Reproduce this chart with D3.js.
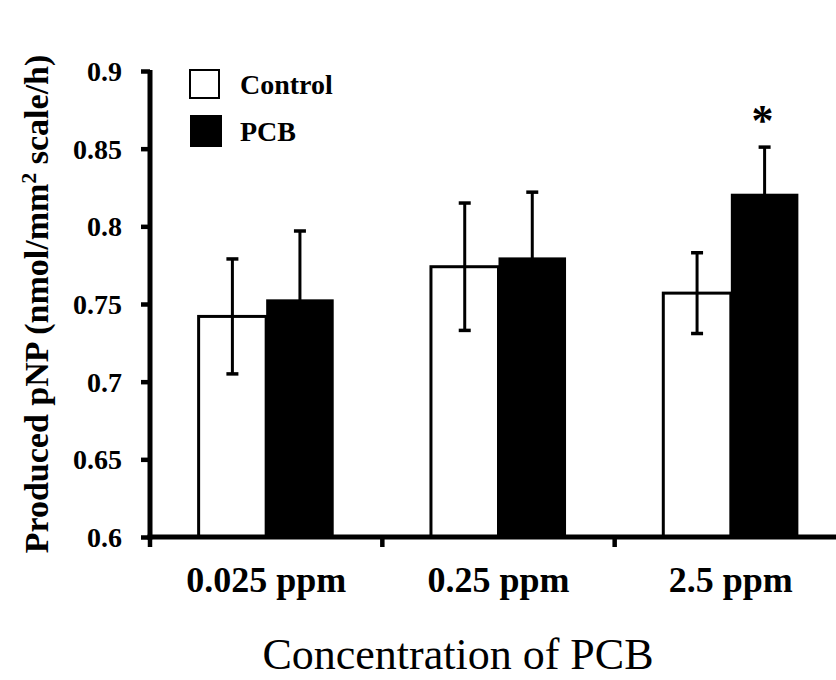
<!DOCTYPE html>
<html>
<head>
<meta charset="utf-8">
<script src="https://cdn.jsdelivr.net/npm/d3@7"></script>
<style>
  body { margin: 0; background: #fff; }
  text { font-family: "Liberation Serif", "Times New Roman", serif; }
</style>
</head>
<body>
<svg id="chart" width="836" height="680"></svg>
<script>
// data
const concentrations = ['0.025 ppm', '0.25 ppm', '2.5 ppm'];
const groups = ['Control', 'PCB'];
const controlMeans = [0.742, 0.774, 0.757];
const controlErr = [0.037, 0.041, 0.026];
const pcbMeans = [0.753, 0.780, 0.821];
const pcbErr = [0.044, 0.042, 0.030];
const yTicks = [0.6, 0.65, 0.7, 0.75, 0.8, 0.85, 0.9];
const significant = [false, false, true];

const width = 836;
const height = 680;
const margin = { top: 71, right: -11, bottom: 143, left: 150 };

const svg = d3.select('#chart');

const x = d3
  .scaleBand()
  .domain(concentrations)
  .range([margin.left, width - margin.right])
  .padding(0);

const xSub = d3
  .scaleBand()
  .domain(groups)
  .range([0, x.bandwidth()])
  .paddingInner(0)
  .paddingOuter(0.72);

const y = d3
  .scaleLinear()
  .domain([0.6, 0.9])
  .range([height - margin.bottom, margin.top]);

const fill = d3.scaleOrdinal().domain(groups).range(['#ffffff', '#000000']);

const rows = concentrations.map((c, i) => ({
  conc: c,
  sig: significant[i],
  bars: [
    { group: 'Control', mean: controlMeans[i], err: controlErr[i] },
    { group: 'PCB', mean: pcbMeans[i], err: pcbErr[i] },
  ],
}));

// bars
const barGroups = svg
  .selectAll('.bar-group')
  .data(rows)
  .enter()
  .append('g')
  .attr('class', 'bar-group')
  .attr('transform', (d) => `translate(${x(d.conc)}, 0)`);

barGroups
  .selectAll('.bar')
  .data((d) => d.bars)
  .enter()
  .append('rect')
  .attr('class', 'bar')
  .attr('x', (d) => xSub(d.group))
  .attr('y', (d) => y(d.mean))
  .attr('width', xSub.bandwidth())
  .attr('height', (d) => y(0.6) - y(d.mean))
  .attr('fill', (d) => fill(d.group))
  .attr('stroke', '#000')
  .attr('stroke-width', (d) => (d.group === 'Control' ? 3 : 0));

// error bars
const errs = barGroups
  .selectAll('.err')
  .data((d) => d.bars)
  .enter()
  .append('g')
  .attr('class', 'err')
  .attr('stroke', '#000');

const cx = (d) => xSub(d.group) + xSub.bandwidth() / 2;
errs
  .append('line')
  .attr('x1', cx)
  .attr('x2', cx)
  .attr('y1', (d) => y(d.mean + d.err))
  .attr('y2', (d) => y(d.mean - d.err))
  .attr('stroke-width', 3);
errs
  .selectAll('.cap')
  .data((d) => [
    { d, v: d.mean + d.err },
    { d, v: d.mean - d.err },
  ])
  .enter()
  .append('line')
  .attr('x1', (c) => cx(c.d) - 6)
  .attr('x2', (c) => cx(c.d) + 6)
  .attr('y1', (c) => y(c.v))
  .attr('y2', (c) => y(c.v))
  .attr('stroke-width', 3.5);

// significance star
barGroups
  .filter((d) => d.sig)
  .append('text')
  .attr('x', (d) => cx(d.bars[1]) - 2)
  .attr('y', (d) => y(d.bars[1].mean + d.bars[1].err) - 12)
  .attr('text-anchor', 'middle')
  .style('font-size', '44px')
  .style('font-weight', 'bold')
  .text('*');

// axes
const yAxis = svg
  .append('g')
  .attr('transform', `translate(${margin.left}, 0)`)
  .call(d3.axisLeft(y).tickValues(yTicks).tickSize(9).tickPadding(19).tickFormat((d) => d3.format('')(+d.toFixed(2))));
yAxis.select('.domain').attr('stroke-width', 5).attr('d', `M0,${y(0.6) + 2.5}V${y(0.9) - 1}`);
yAxis.selectAll('.tick line').attr('stroke-width', 4.5);
yAxis
  .selectAll('.tick text')
  .style('font-size', '28px')
  .style('font-weight', 'bold')
  .attr('fill', '#000')
  .attr('dy', '0.34em');

const xAxis = svg
  .append('g')
  .attr('transform', `translate(0, ${y(0.6)})`)
  .call(d3.axisBottom(x).tickSize(0).tickPadding(0).tickFormat(''));
xAxis.select('.domain').attr('stroke-width', 5).attr('d', `M${margin.left - 2.5},0H${width}`);

// x boundary ticks between groups
svg
  .append('g')
  .selectAll('line')
  .data(concentrations)
  .enter()
  .append('line')
  .attr('x1', (d) => x(d))
  .attr('x2', (d) => x(d))
  .attr('y1', y(0.6))
  .attr('y2', y(0.6) + 10)
  .attr('stroke', '#000')
  .attr('stroke-width', 4.5);

// category labels
svg
  .append('g')
  .selectAll('text')
  .data(concentrations)
  .enter()
  .append('text')
  .attr('x', (d) => x(d) + x.bandwidth() / 2)
  .attr('y', 592)
  .attr('text-anchor', 'middle')
  .style('font-size', '36px')
  .style('font-weight', 'bold')
  .text((d) => d);

// axis titles
svg
  .append('text')
  .attr('transform', `translate(48, ${(y(0.6) + y(0.9)) / 2}) rotate(-90)`)
  .attr('text-anchor', 'middle')
  .style('font-size', '34px')
  .style('font-weight', 'bold')
  .html('Produced pNP (nmol/mm<tspan dy="-12" font-size="22px">2</tspan><tspan dy="12"> scale/h)</tspan>');

svg
  .append('text')
  .attr('x', 458)
  .attr('y', 669)
  .attr('text-anchor', 'middle')
  .style('font-size', '44px')
  .text('Concentration of PCB');

// legend
const legend = svg
  .selectAll('.legend')
  .data(groups)
  .enter()
  .append('g')
  .attr('class', 'legend')
  .attr('transform', (d, i) => `translate(0, ${i * 47})`);

legend
  .append('rect')
  .attr('x', 190)
  .attr('y', (d, i) => (i === 0 ? 70 : 68))
  .attr('width', (d, i) => (i === 0 ? 29 : 32))
  .attr('height', (d, i) => (i === 0 ? 28 : 32))
  .attr('fill', (d) => fill(d))
  .attr('stroke', '#000')
  .attr('stroke-width', (d, i) => (i === 0 ? 2 : 0));

legend
  .append('text')
  .attr('x', 240)
  .attr('y', 94)
  .style('font-size', '28px')
  .style('font-weight', 'bold')
  .text((d) => d);
</script>
</body>
</html>
